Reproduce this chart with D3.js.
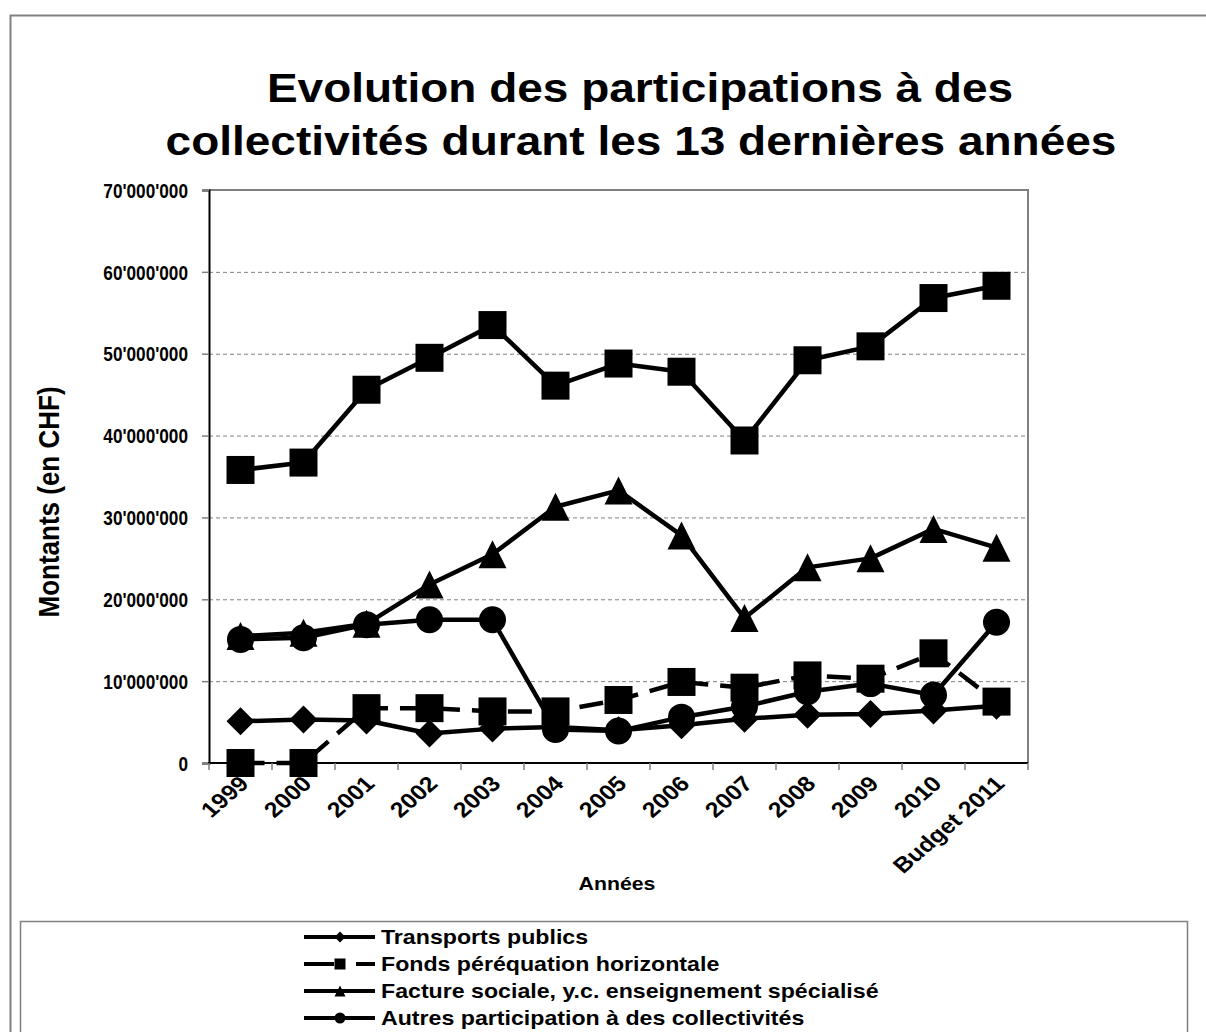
<!DOCTYPE html>
<meta charset="utf-8">
<style>

html, body {
  margin: 0;
  padding: 0;
  background: #fff;
}

svg {
  display: block;
  font-family: Arial, "Liberation Sans", sans-serif;
  font-weight: bold;
}

.grid line {
  stroke: #808080;
  stroke-width: 1px;
  stroke-dasharray: 4,3;
}

.series path.line {
  fill: none;
  stroke: #000;
  stroke-width: 4.5px;
  stroke-linejoin: round;
}

</style>
<svg class="chart"></svg>
<script src="https://d3js.org/d3.v7.min.js"></script>
<script>

var width = 1206;
var height = 1032;

var years = ['1999', '2000', '2001', '2002', '2003', '2004', '2005', '2006',
  '2007', '2008', '2009', '2010', 'Budget 2011'];

// values in CHF
var transports = [5.1e6, 5.3e6, 5.2e6, 3.6e6, 4.2e6, 4.4e6, 4.0e6, 4.6e6,
  5.4e6, 5.9e6, 6.0e6, 6.4e6, 7.0e6];
var fonds = [0, 0, 6.7e6, 6.7e6, 6.3e6, 6.3e6, 7.7e6, 9.9e6,
  9.2e6, 10.7e6, 10.3e6, 13.4e6, 7.5e6];
var facture = [15.5e6, 15.9e6, 17.0e6, 21.8e6, 25.5e6, 31.3e6, 33.3e6, 27.8e6,
  17.7e6, 23.9e6, 25.0e6, 28.6e6, 26.3e6];
var autres = [15.1e6, 15.3e6, 16.9e6, 17.5e6, 17.5e6, 4.1e6, 3.9e6, 5.6e6,
  6.9e6, 8.7e6, 9.7e6, 8.3e6, 17.2e6];
var total = [35.8e6, 36.7e6, 45.6e6, 49.5e6, 53.5e6, 46.1e6, 48.8e6, 47.8e6,
  39.4e6, 49.2e6, 50.9e6, 56.8e6, 58.3e6];

var yTicks = [0, 10e6, 20e6, 30e6, 40e6, 50e6, 60e6, 70e6];

var series = [
  {name: 'Transports publics', values: transports, symbol: 'diamond', dash: null, legend: true},
  {name: 'Fonds péréquation horizontale', values: fonds, symbol: 'square', dash: '24,12', legend: true},
  {name: 'Facture sociale, y.c. enseignement spécialisé', values: facture, symbol: 'triangle', dash: null, legend: true},
  {name: 'Autres participation à des collectivités', values: autres, symbol: 'circle', dash: null, legend: true},
  {name: 'Total', values: total, symbol: 'square', dash: null, legend: false}
];

var plot = {left: 209, right: 1028, top: 190, bottom: 763};

var svg = d3.select('svg.chart')
  .attr('width', width)
  .attr('height', height);

svg.append('rect')
  .attr('width', width)
  .attr('height', height)
  .attr('fill', '#fff');

// outer chart frame (runs past the window edge)
svg.append('rect')
  .attr('x', 10.5)
  .attr('y', 15.5)
  .attr('width', 1300)
  .attr('height', 1100)
  .attr('fill', 'none')
  .attr('stroke', '#808080')
  .attr('stroke-width', 2);

// text drawn at (x, y), widened by sx like the original, optionally rotated
function label (parent, x, y, angle, size, sx, anchor, txt) {
  var t = parent.append('g')
    .attr('transform', 'translate(' + x + ',' + y + ') scale(' + sx + ',1)' +
      (angle ? ' rotate(' + angle + ')' : ''))
    .append('text')
    .attr('text-anchor', anchor)
    .attr('fill', '#000')
    .style('font-size', size + 'px')
    .text(txt);
  return t;
}

label(svg, 640, 102, 0, 40, 1.15, 'middle', 'Evolution des participations à des');
label(svg, 641, 155, 0, 40, 1.15, 'middle', 'collectivités durant les 13 dernières années');

var x = d3.scaleBand()
  .domain(years)
  .range([plot.left, plot.right]);

var y = d3.scaleLinear()
  .domain([0, 70e6])
  .range([plot.bottom, plot.top]);

function cx (i) { return x(years[i]) + x.bandwidth() / 2; }

var fmt = d3.formatLocale({decimal: '.', thousands: "'", grouping: [3], currency: ['', '']}).format(',d');

// grid
svg.append('g')
  .attr('class', 'grid')
  .selectAll('line')
  .data(yTicks.slice(1, -1))
  .enter().append('line')
  .attr('x1', plot.left)
  .attr('x2', plot.right)
  .attr('y1', function (d) { return y(d) + 0.5; })
  .attr('y2', function (d) { return y(d) + 0.5; });

// plot frame top / right
svg.append('path')
  .attr('d', 'M' + plot.left + ',' + plot.top + 'H' + plot.right + 'V' + plot.bottom)
  .attr('fill', 'none')
  .attr('stroke', '#808080')
  .attr('stroke-width', 2);

// y axis
var yAxis = svg.append('g')
  .attr('transform', 'translate(' + plot.left + ',0)')
  .call(d3.axisLeft(y).tickValues(yTicks).tickSize(7).tickFormat(''));
yAxis.select('.domain').attr('stroke', '#000').attr('stroke-width', 2);
yAxis.selectAll('.tick line').attr('stroke', '#808080').attr('stroke-width', 1.5);
yAxis.selectAll('.tick').each(function (d) {
  label(d3.select(this), -21, 0, 0, 20, 0.86, 'end', fmt(d)).attr('dy', '0.36em');
});

// x axis: ticks on category boundaries
var xAxis = svg.append('g');
xAxis.append('line')
  .attr('x1', plot.left - 1)
  .attr('x2', plot.right)
  .attr('y1', plot.bottom)
  .attr('y2', plot.bottom)
  .attr('stroke', '#000')
  .attr('stroke-width', 2);
xAxis.selectAll('line.tick')
  .data(years.map(function (d) { return x(d); }).concat([plot.right]))
  .enter().append('line')
  .attr('class', 'tick')
  .attr('x1', function (d) { return d; })
  .attr('x2', function (d) { return d; })
  .attr('y1', plot.bottom)
  .attr('y2', plot.bottom + 7)
  .attr('stroke', '#808080')
  .attr('stroke-width', 1.5);
years.forEach(function (d, i) {
  label(xAxis, cx(i) - 3, plot.bottom + 11, -45, 21.5, 1.15, 'end', d).attr('dy', '0.72em');
});

label(svg, 617, 890, 0, 18.5, 1.15, 'middle', 'Années');

label(svg, 49, 502, -90, 26, 1.1, 'middle', 'Montants (en CHF)').attr('dy', '0.35em');

var symbols = {
  diamond: function (s) { return 'M0,' + (-s / 2) + 'L' + (s / 2) + ',0L0,' + (s / 2) + 'L' + (-s / 2) + ',0Z'; },
  square: function (s) { return 'M' + (-s / 2) + ',' + (-s / 2) + 'h' + s + 'v' + s + 'h' + (-s) + 'Z'; },
  triangle: function (s) { return 'M0,' + (-s / 2) + 'L' + (s / 2) + ',' + (s / 2) + 'L' + (-s / 2) + ',' + (s / 2) + 'Z'; },
  circle: function (s) { var r = s / 2; return 'M' + r + ',0A' + r + ',' + r + ' 0 1,1 ' + (-r) + ',0A' + r + ',' + r + ' 0 1,1 ' + r + ',0Z'; }
};

var line = d3.line()
  .x(function (d, i) { return cx(i); })
  .y(function (d) { return y(d); });

var seriesG = svg.selectAll('g.series')
  .data(series)
  .enter().append('g')
  .attr('class', 'series');

seriesG.append('path')
  .attr('class', 'line')
  .attr('stroke-dasharray', function (d) { return d.dash; })
  .attr('d', function (d) { return line(d.values); });

seriesG.selectAll('path.mark')
  .data(function (d) { return d.values.map(function (v) { return {v: v, symbol: d.symbol}; }); })
  .enter().append('path')
  .attr('class', 'mark')
  .attr('transform', function (d, i) { return 'translate(' + cx(i) + ',' + y(d.v) + ')'; })
  .attr('d', function (d) { return symbols[d.symbol](d.symbol === 'circle' ? 27 : 28); })
  .attr('fill', '#000');

// legend
svg.append('rect')
  .attr('x', 20.5)
  .attr('y', 921.5)
  .attr('width', 1167)
  .attr('height', 200)
  .attr('fill', 'none')
  .attr('stroke', '#808080')
  .attr('stroke-width', 1.5);

var legend = svg.selectAll('g.legend')
  .data(series.filter(function (d) { return d.legend; }))
  .enter().append('g')
  .attr('class', 'legend')
  .attr('transform', function (d, i) { return 'translate(0,' + (937 + i * 27) + ')'; });

legend.append('line')
  .attr('x1', 304)
  .attr('x2', 375)
  .attr('stroke', '#000')
  .attr('stroke-width', 4)
  .attr('stroke-dasharray', function (d) { return d.dash ? '30,22' : null; });

legend.append('path')
  .attr('transform', 'translate(340,0)')
  .attr('d', function (d) { return symbols[d.symbol](11); })
  .attr('fill', '#000');

legend.each(function (d) {
  label(d3.select(this), 381, 0, 0, 20.5, 1.13, 'start', d.name).attr('dy', '0.36em');
});

</script>
